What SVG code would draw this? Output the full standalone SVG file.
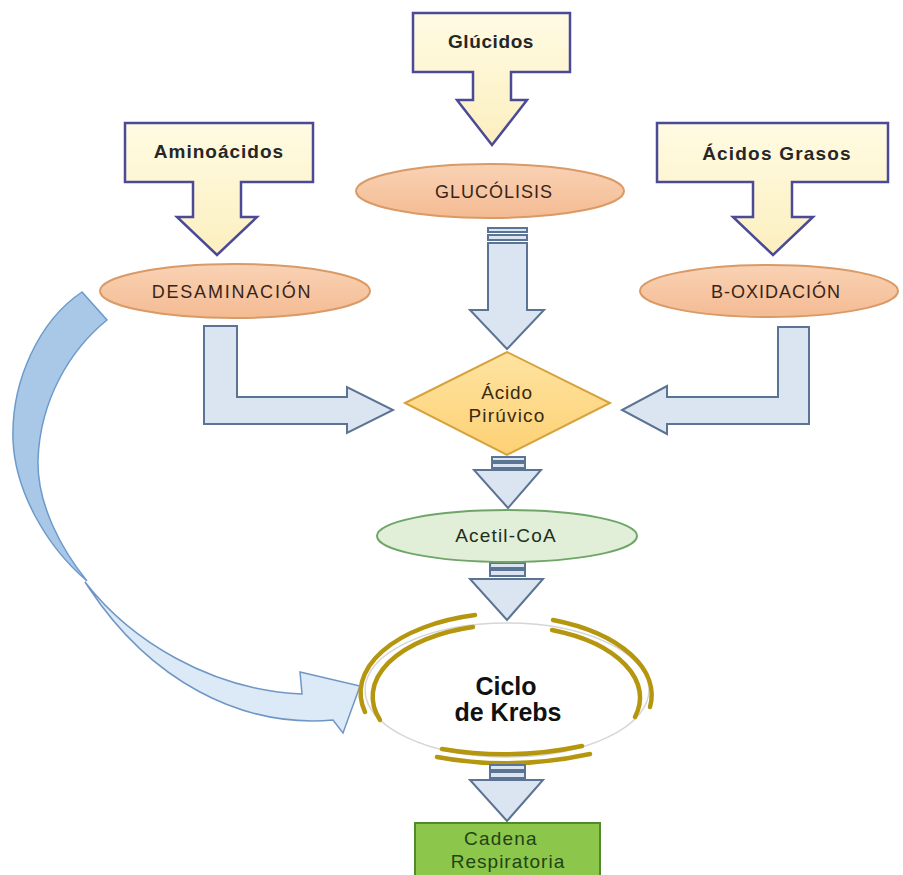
<svg xmlns="http://www.w3.org/2000/svg" width="903" height="875" viewBox="0 0 903 875">
<defs>
<linearGradient id="gy" x1="0" y1="0" x2="0" y2="1"><stop offset="0" stop-color="#fffbe3"/><stop offset="1" stop-color="#fcefbf"/></linearGradient>
<linearGradient id="gs" x1="0" y1="0" x2="0" y2="1"><stop offset="0" stop-color="#f9d2b4"/><stop offset="1" stop-color="#f4bb93"/></linearGradient>
<linearGradient id="gd" x1="0" y1="0" x2="0" y2="1"><stop offset="0" stop-color="#fee3a0"/><stop offset="1" stop-color="#fdd175"/></linearGradient>
<style>
.call{fill:url(#gy);stroke:#4b4a97;stroke-width:2.5;stroke-linejoin:miter}
.proc{fill:url(#gs);stroke:#d99a66;stroke-width:2}
.blk{fill:#dbe5f1;stroke:#5b7493;stroke-width:2;stroke-linejoin:miter}
.gold{fill:none;stroke:#b5960f;stroke-width:4.5;stroke-linecap:round}
text{font-family:"Liberation Sans",Arial,sans-serif;text-anchor:middle}
.tb{font-weight:bold;font-size:19px;fill:#262626;letter-spacing:0.6px}
.tp{font-size:18px;fill:#3a2418;letter-spacing:1px}
</style>
</defs>
<rect width="903" height="875" fill="#ffffff"/>

<g id="glucidos">
<path class="call" d="M413,13 H570 V72 H511 V100 H527 L492,145 L457,100 H473 V72 H413 Z"/>
<text class="tb" x="491" y="48">Glúcidos</text>
</g>
<g id="aminoacidos">
<path class="call" d="M125,123 H313 V182 H241 V217 H257 L217,255 L177,217 H193 V182 H125 Z"/>
<text class="tb" x="219" y="158" style="letter-spacing:1px">Aminoácidos</text>
</g>
<g id="acidos-grasos">
<path class="call" d="M657,123 H888 V182 H792 V217 H813 L773,255 L733,217 H753 V182 H657 Z"/>
<text class="tb" x="777" y="160" style="letter-spacing:1.2px">Ácidos Grasos</text>
</g>

<g id="glucolisis">
<ellipse class="proc" cx="490" cy="191" rx="134" ry="27"/>
<text class="tp" x="494" y="198">GLUCÓLISIS</text>
</g>
<g id="desaminacion">
<ellipse class="proc" cx="235" cy="291" rx="135" ry="27"/>
<text class="tp" x="232" y="298" style="letter-spacing:1.8px">DESAMINACIÓN</text>
</g>
<g id="b-oxidacion">
<ellipse class="proc" cx="769" cy="291" rx="129" ry="26"/>
<text class="tp" x="776" y="298">B-OXIDACIÓN</text>
</g>

<g id="connectors">
<!-- glycolysis down arrow -->
<rect class="blk" x="488" y="228" width="39" height="4"/>
<rect class="blk" x="488" y="235" width="39" height="5"/>
<path class="blk" d="M488,243 H527 V310 H544 L507,349 L470,310 H488 Z"/>
<!-- left L arrow -->
<path class="blk" d="M204,326 H237 V397 H347 V387 L393,410 L347,433 V424 H204 Z"/>
<!-- right L arrow -->
<path class="blk" d="M778,327 H809 V424 H667 V434 L622,410 L667,386 V397 H778 Z"/>
<!-- below pyruvic -->
<rect class="blk" x="492" y="457" width="33" height="4"/>
<rect class="blk" x="492" y="463" width="33" height="5"/>
<path class="blk" d="M492,470 H525 V470 H541 L508,508 L474,470 Z"/>
<!-- below acetyl -->
<rect class="blk" x="490" y="563" width="35" height="5"/>
<rect class="blk" x="490" y="570" width="35" height="6"/>
<path class="blk" d="M470,579 H543 L507,620 Z"/>
<!-- curved arrow from desaminacion to krebs -->
<path d="M82,292 L107,320 C70,350 40,400 38,460 C37,505 62,550 87,581 C45,545 15,490 13,440 C11,380 40,320 82,292 Z" fill="#a9c8e8" stroke="#6b9acb" stroke-width="1.5"/>
<path d="M85,582 C130,640 210,690 302,694 L300,672 L360,686 L343,733 L333,720 C240,728 150,680 89,588 Z" fill="#dce9f6" stroke="#6f97c5" stroke-width="1.5" stroke-linejoin="miter"/>
</g>

<g id="acido-piruvico">
<path d="M405,403 L507,352 L610,403 L507,455 Z" fill="url(#gd)" stroke="#d6a23c" stroke-width="2"/>
<text x="507" y="399" style="font-size:19px;fill:#3a2a10;letter-spacing:0.8px">Ácido</text>
<text x="507" y="422" style="font-size:19px;fill:#3a2a10;letter-spacing:1.2px">Pirúvico</text>
</g>

<g id="acetil-coa">
<ellipse cx="507" cy="536" rx="130" ry="26" fill="#e1efd8" stroke="#6fa668" stroke-width="2"/>
<text x="506" y="542" style="font-size:19px;fill:#1e2e1a;letter-spacing:1.2px">Acetil-CoA</text>
</g>

<g id="ciclo-krebs">
<ellipse cx="507" cy="690" rx="142" ry="67" fill="#ffffff" stroke="#d6d6d6" stroke-width="1.5"/>
<path class="gold" d="M475,615 A150,80 0 0 0 365,712"/>
<path class="gold" d="M473,627 A135,72 0 0 0 380,720"/>
<path class="gold" d="M553,620 A150,80 0 0 1 650,707"/>
<path class="gold" d="M552,630 A135,72 0 0 1 635,717"/>
<path class="gold" d="M442,749 Q512,761 582,746"/>
<path class="gold" d="M437,757 Q512,771 590,754"/>
<text x="506" y="695" style="font-size:25px;font-weight:bold;fill:#111">Ciclo</text>
<text x="508" y="721" style="font-size:25px;font-weight:bold;fill:#111">de Krebs</text>
</g>

<g id="connector-krebs-cadena">
<rect class="blk" x="490" y="765" width="35" height="5"/>
<rect class="blk" x="490" y="772" width="35" height="6"/>
<path class="blk" d="M470,780 H543 L507,821 Z"/>
</g>

<g id="cadena-respiratoria">
<rect x="415" y="823" width="185" height="60" fill="#8cc64a" stroke="#4f8a2b" stroke-width="2"/>
<text x="501" y="845" style="font-size:19px;fill:#1f4415;letter-spacing:1.2px">Cadena</text>
<text x="508" y="868" style="font-size:19px;fill:#1f4415;letter-spacing:1px">Respiratoria</text>
</g>
</svg>
